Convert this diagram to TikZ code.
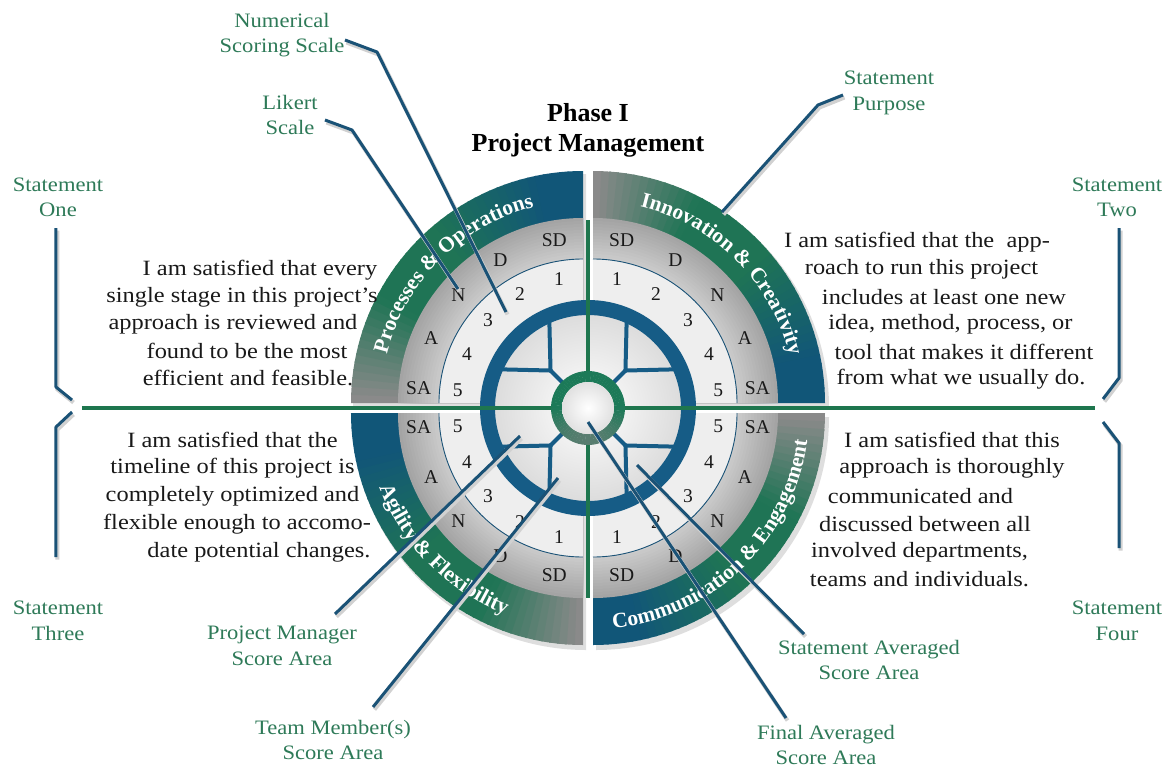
\documentclass[tikz,border=0pt]{standalone}
\usepackage{fontspec}
\setmainfont{Liberation Serif}[FakeStretch=1.12]
\newfontfamily\likfam{Liberation Serif}
\newfontfamily\labfam{Liberation Serif}[FakeStretch=1.1]
\usetikzlibrary{decorations.text,calc}
\definecolor{bandgray}{RGB}{138,138,138}
\definecolor{bandgreen}{RGB}{31,116,85}
\definecolor{bandblue}{RGB}{17,86,120}
\definecolor{ringblue}{RGB}{22,92,134}
\definecolor{navyline}{RGB}{26,82,118}
\definecolor{linegreen}{RGB}{30,118,78}
\definecolor{labelgreen}{RGB}{46,122,88}
\definecolor{ringgreen}{RGB}{28,122,88}
\definecolor{numfill}{RGB}{238,238,238}
\definecolor{txt}{RGB}{25,25,25}
\newcommand{\bandfont}{\likfam\fontsize{21.5}{21.5}\selectfont\bfseries}
\newcommand{\drawquad}[2]{%
  \pgfmathsetmacro{\qend}{#2-90}%
  \fill[black, opacity=0.13] ($(#1)+(3,-4)$) -- ++(#2:233) arc[start angle=#2, end angle=\qend, radius=233] -- cycle;
  \foreach \i in {0,...,44}{%
    \pgfmathsetmacro{\qa}{#2-2*\i}%
    \pgfmathsetmacro{\qb}{\qa-ifthenelse(\i==44,2,2.4)}%
    \pgfmathsetmacro{\tq}{\i/44}%
    \pgfmathtruncatemacro{\mpa}{100*min(1,\tq/0.3)}%
    \pgfmathtruncatemacro{\mpb}{100*max(0,min(1,(\tq-0.55)/0.33))}%
    \colorlet{mixA}{bandgreen!\mpa!bandgray}%
    \colorlet{mixB}{bandblue!\mpb!mixA}%
    \fill[mixB] (#1) -- ++(\qa:232) arc[start angle=\qa, end angle=\qb, radius=232] -- cycle;
  }%
  \foreach \k in {0,...,13}{%
    \pgfmathsetmacro{\lkr}{185-3*\k}%
    \pgfmathtruncatemacro{\gv}{164+3*\k}%
    \definecolor{lkc}{RGB}{\gv,\gv,\gv}%
    \fill[lkc] (#1) -- ++(#2:\lkr) arc[start angle=#2, end angle=\qend, radius=\lkr] -- cycle;
  }%
  \fill[numfill] (#1) -- ++(#2:144) arc[start angle=#2, end angle=\qend, radius=144] -- cycle;
  \draw[navyline, line width=0.9] ($(#1)+(#2:144)$) arc[start angle=#2, end angle=\qend, radius=144];
}
\begin{document}
\begin{tikzpicture}[x=1pt,y=1pt,
  stmt/.style={font=\fontsize{21.8}{27}\selectfont, text=txt, inner sep=0},
  glabel/.style={font=\labfam\fontsize{20.5}{25.5}\selectfont, text=labelgreen, align=center, inner sep=0},
  likert/.style={font=\likfam\fontsize{19.5}{19.5}\selectfont, text=txt, inner sep=0},
  conn/.style={draw=navyline, line width=3, line join=round,
    preaction={draw=black!18, line width=4, transform canvas={shift={(1.5pt,-2.5pt)}}}},
  gline/.style={draw=linegreen, line width=4.5},
  spoke/.style={draw=ringblue, line width=4, line cap=round, line join=round},
  bandtext/.style={decorate, decoration={text along path, text align=center, text color=white, text={#1}}}
]
\fill[white] (-588,-361) rectangle (581,408);
\useasboundingbox (-588,-361) rectangle (581,408);

\coordinate (qTL) at (-5,5);
\coordinate (qTR) at (5,5);
\coordinate (qBR) at (5,-5);
\coordinate (qBL) at (-5,-5);

\drawquad{qTL}{180}
\drawquad{qTR}{90}
\drawquad{qBR}{0}
\drawquad{qBL}{270}

% inner disc
\shade[inner color=white, outer color=black!14] (0,0) circle (96);
\draw[ringblue, line width=15] (0,0) circle (100.5);
\foreach \d in {45,135,225,315}{
  \draw[spoke] (\d:36) -- (\d:53);
  \draw[spoke] (\d:53) -- (\d+21:95);
  \draw[spoke] (\d:53) -- (\d-21:95);
}

% green axes
\coordinate (hL) at (-506,0);
\coordinate (hR) at (507,0);
\coordinate (vT) at (0,188);
\coordinate (vB) at (0,-190);
\draw[gline] (hL) -- (hR);
\draw[gline] (vT) -- (vB);

% centre rings
\foreach \j in {0,...,71}{
  \pgfmathsetmacro{\ga}{\j*5}
  \pgfmathsetmacro{\gb}{\ga+5.5}
  \pgfmathtruncatemacro{\gm}{100-60*max(0,-sin(\ga+2.5))}
  \fill[ringgreen!\gm!gray] (\ga:26) arc[start angle=\ga, end angle=\gb, radius=26] -- (\gb:37) arc[start angle=\gb, end angle=\ga, radius=37] -- cycle;
}
\shade[inner color=white, outer color=black!12] (0,0) circle (26);

% band texts
\path[bandtext={|\bandfont|Processes {\&} Operations}] ($(qTL)+(180:202)$) arc[start angle=180, end angle=90, radius=202];
\path[bandtext={|\bandfont|Innovation {\&} Creativity}] ($(qTR)+(90:202)$) arc[start angle=90, end angle=0, radius=202];
\path[bandtext={|\bandfont|Agility {\&} Flexibility}] ($(qBL)+(181:216)$) arc[start angle=181, end angle=268, radius=216];
\path[bandtext={|\bandfont|Communication {\&} Engagement}] ($(qBR)+(270:216)$) arc[start angle=270, end angle=358, radius=216];

% Likert and numbers
\foreach \lab/\off [count=\n] in {SD/10, D/30, N/49, A/67, SA/85}{
  \node[likert] (lkTL\n) at ($(qTL)+(90+\off:165)$) {\lab};
  \node[likert] (lkTR\n) at ($(qTR)+(90-\off:165)$) {\lab};
  \node[likert] (lkBL\n) at ($(qBL)+(270-\off:165)$) {\lab};
  \node[likert] (lkBR\n) at ($(qBR)+(270+\off:165)$) {\lab};
}
\foreach \num/\off in {1/11, 2/30, 3/49, 4/67, 5/84}{
  \node[likert] (nmTL\num) at ($(qTL)+(90+\off:126)$) {\num};
  \node[likert] (nmTR\num) at ($(qTR)+(90-\off:126)$) {\num};
  \node[likert] (nmBL\num) at ($(qBL)+(270-\off:126)$) {\num};
  \node[likert] (nmBR\num) at ($(qBR)+(270+\off:126)$) {\num};
}

% title
\node[font=\likfam\fontsize{26}{30}\selectfont\bfseries, align=center, text=black, inner sep=0] (title) at (0,278) {Phase I\\Project Management};

% statements
\node[stmt] (tl1) at (-328,138) {I am satisfied that every};
\node[stmt] (tl2) at (-346,111) {single stage in this project's};
\node[stmt] (tl3) at (-355,84) {approach is reviewed and};
\node[stmt] (tl4) at (-341,57) {found to be the most};
\node[stmt] (tl5) at (-340,30) {efficient and feasible.};

\node[stmt] (tr1) at (329,166) {I am satisfied that the\ \ app-};
\node[stmt] (tr2) at (333.5,139) {roach to run this project};
\node[stmt] (tr3) at (356,111) {includes at least one new};
\node[stmt] (tr4) at (362.5,84) {idea, method, process, or};
\node[stmt] (tr5) at (376,56) {tool that makes it different};
\node[stmt] (tr6) at (373,29) {from what we usually do.};

\node[stmt] (bl1) at (-355.5,-32) {I am satisfied that the};
\node[stmt] (bl2) at (-355.5,-60) {timeline of this project is};
\node[stmt] (bl3) at (-355.5,-88) {completely optimized and};
\node[stmt] (bl4) at (-351,-116) {flexible enough to accomo-};
\node[stmt] (bl5) at (-329,-144) {date potential changes.};

\node[stmt] (br1) at (364,-32) {I am satisfied that this};
\node[stmt] (br2) at (364,-60) {approach is thoroughly};
\node[stmt] (br3) at (332.5,-88) {communicated and};
\node[stmt] (br4) at (337,-116) {discussed between all};
\node[stmt] (br5) at (331.5,-144) {involved departments,};
\node[stmt] (br6) at (331.5,-171) {teams and individuals.};

% green labels
\node[glabel] (numLab) at (-306,373) {Numerical\\Scoring Scale};
\node[glabel] (likLab) at (-298,293) {Likert\\Scale};
\node[glabel] (purLab) at (301,315) {Statement\\Purpose};
\node[glabel] (oneLab) at (-530,210.5) {Statement\\One};
\node[glabel] (twoLab) at (529,210.5) {Statement\\Two};
\node[glabel] (thrLab) at (-530,-213) {Statement\\Three};
\node[glabel] (fouLab) at (529,-213) {Statement\\Four};
\node[glabel] (pmLab) at (-306,-238) {Project Manager\\Score Area};
\node[glabel] (tmLab) at (-255,-332) {Team Member(s)\\Score Area};
\node[glabel] (saLab) at (281,-252) {Statement Averaged\\Score Area};
\node[glabel] (faLab) at (238,-337) {Final Averaged\\Score Area};

% connector points
\coordinate (numS) at (-243,368); \coordinate (numB) at (-211,356); \coordinate (numE) at (-82,96);
\coordinate (likS) at (-263,288); \coordinate (likB) at (-236,278); \coordinate (likE) at (-130,119);
\coordinate (purS) at (255,313); \coordinate (purB) at (230,303); \coordinate (purE) at (134,196);
\coordinate (oneS) at (-532,180); \coordinate (oneB) at (-532,21); \coordinate (oneE) at (-516,8);
\coordinate (thrE) at (-516,-4); \coordinate (thrB) at (-532,-19); \coordinate (thrS) at (-532,-149);
\coordinate (twoS) at (531,180); \coordinate (twoB) at (531,30); \coordinate (twoE) at (515,9);
\coordinate (fouE) at (515,-14); \coordinate (fouB) at (531,-35); \coordinate (fouS) at (531,-140);
\coordinate (pmS) at (-253,-206); \coordinate (pmE) at (-68,-28);
\coordinate (tmS) at (-215,-299); \coordinate (tmE) at (-30,-70);
\coordinate (saS) at (216,-226); \coordinate (saE) at (49,-57);
\coordinate (faS) at (198,-310); \coordinate (faE) at (0,-14);

\draw[conn] (numS) -- (numB) -- (numE);
\draw[conn] (likS) -- (likB) -- (likE);
\draw[conn] (purS) -- (purB) -- (purE);
\draw[conn] (oneS) -- (oneB) -- (oneE);
\draw[conn] (thrS) -- (thrB) -- (thrE);
\draw[conn] (twoS) -- (twoB) -- (twoE);
\draw[conn] (fouS) -- (fouB) -- (fouE);
\draw[conn] (pmS) -- (pmE);
\draw[conn] (tmS) -- (tmE);
\draw[conn] (saS) -- (saE);
\draw[conn] (faS) -- (faE);
\end{tikzpicture}
\end{document}
